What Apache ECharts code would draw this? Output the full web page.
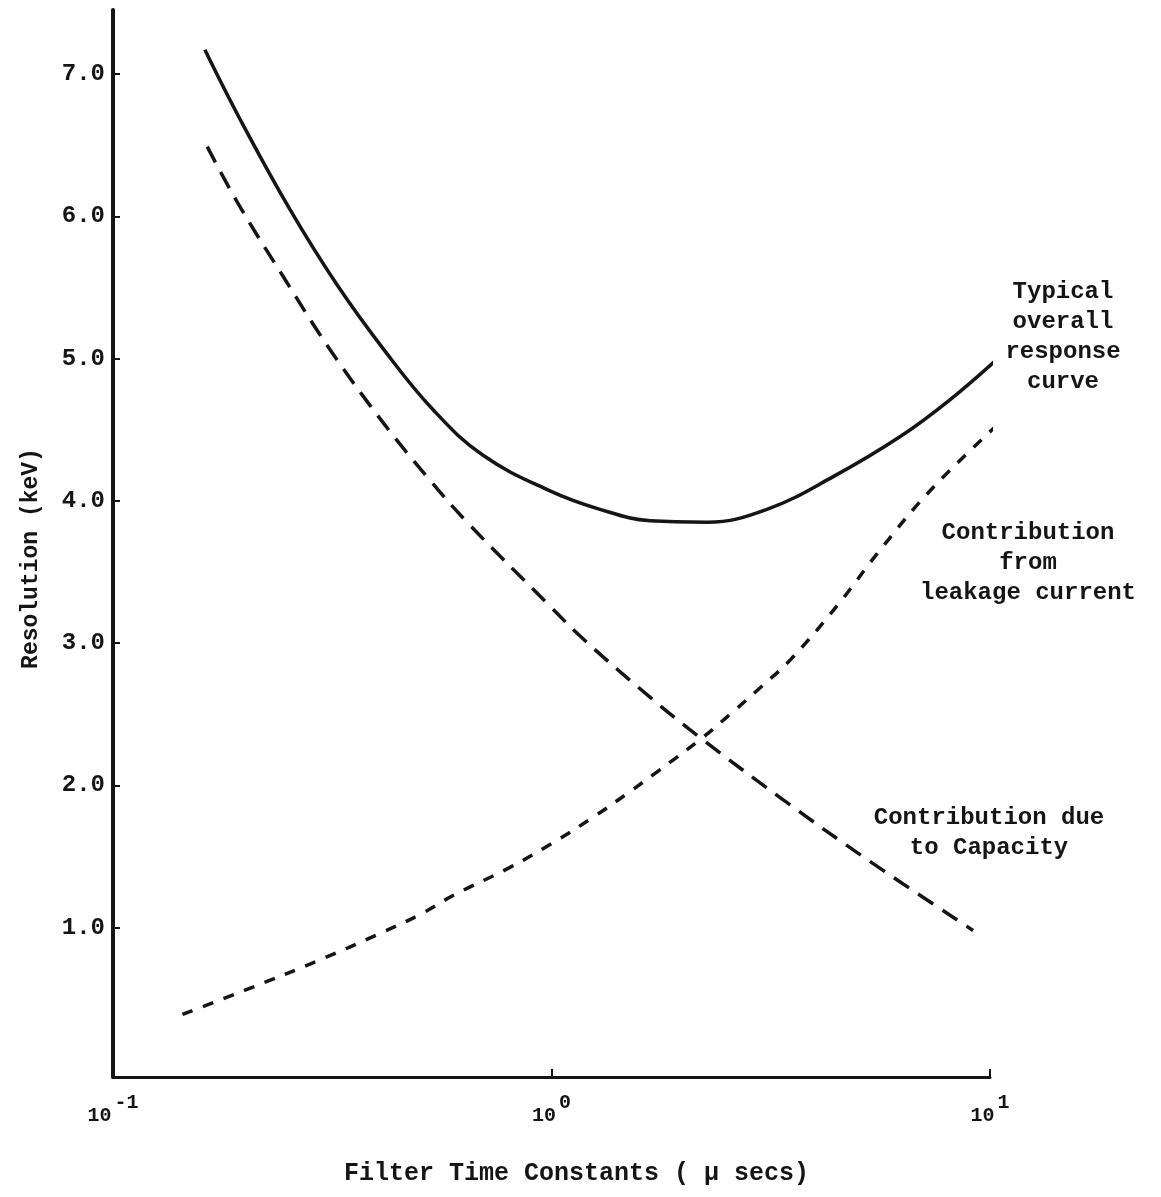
<!DOCTYPE html>
<html>
<head>
<meta charset="utf-8">
<script src="https://cdn.jsdelivr.net/npm/echarts@6/dist/echarts.min.js"></script>
<style>
  html, body { margin: 0; padding: 0; background: #ffffff; }
  #chart { width: 1161px; height: 1197px; }
</style>
</head>
<body>
<div id="chart"></div>
<script>
// ---- Data ----
// Typical overall response curve (solid)
const overallT = [0.162, 0.195, 0.253, 0.324, 0.413, 0.537, 0.698, 0.992, 1.29, 1.68, 2.26, 3.10, 4.39, 6.23, 8.10, 10.5];
const overallV = [7.17, 6.68, 6.05, 5.52, 5.07, 4.64, 4.32, 4.07, 3.94, 3.86, 3.85, 3.94, 4.17, 4.45, 4.71, 5.01];
// Contribution due to Capacity (long dashes)
const capT = [0.164, 0.192, 0.244, 0.313, 0.413, 0.520, 0.642, 0.992, 1.18, 1.677, 2.216, 3.37, 5.24, 9.15];
const capV = [6.49, 6.10, 5.58, 5.06, 4.55, 4.17, 3.85, 3.26, 3.03, 2.62, 2.32, 1.90, 1.48, 0.98];
// Contribution from leakage current (short dashes)
const leakT = [0.144, 0.2, 0.3, 0.4, 0.5, 0.6, 0.8, 1.0, 1.25, 1.5, 1.75, 2.2, 2.6, 3.0, 3.5, 4.5, 5.7, 7.4, 10.7];
const leakV = [0.39, 0.56, 0.78, 0.95, 1.09, 1.23, 1.42, 1.59, 1.78, 1.95, 2.10, 2.33, 2.52, 2.69, 2.88, 3.27, 3.68, 4.09, 4.57];

const yTickValues = [1, 2, 3, 4, 5, 6, 7];
const xTickValues = [0.1, 1, 10];
const xAxisTitle = 'Filter Time Constants ( \u03bc secs)';
const yAxisTitle = 'Resolution (keV)';
const labelOverall = 'Typical\noverall\nresponse\ncurve';
const labelLeak = 'Contribution\nfrom\nleakage current';
const labelCap = 'Contribution due\nto Capacity';

const FONT = "'Liberation Mono', 'Courier New', monospace";
const INK = '#151515';

function zip(a, b) { return a.map((v, i) => [v, b[i]]); }

const chart = echarts.init(document.getElementById('chart'), null, { renderer: 'canvas' });

chart.setOption({
  animation: false,
  backgroundColor: '#ffffff',
  grid: { left: 113, right: 171, top: 10, bottom: 120, containLabel: false, outerBoundsMode: 'none' },
  xAxis: {
    type: 'log',
    logBase: 10,
    min: 0.1,
    max: 10,
    name: xAxisTitle,
    nameLocation: 'middle',
    nameGap: 84,
    nameTextStyle: { fontFamily: FONT, fontSize: 25, fontWeight: 'bold', color: INK, padding: [0, 0, 0, 50] },
    axisLine: { show: true, onZero: false, lineStyle: { color: INK, width: 3 } },
    axisTick: { show: true, inside: true, length: 8, customValues: xTickValues, lineStyle: { color: INK, width: 2 } },
    minorTick: { show: false },
    splitLine: { show: false },
    axisLabel: {
      margin: 16,
      color: INK,
      customValues: xTickValues,
      formatter: function (v) {
        const e = Math.round(Math.log10(v));
        return '{b|10}{s|' + e + '}';
      },
      rich: {
        b: { fontFamily: FONT, fontSize: 20, fontWeight: 'bold', color: INK, lineHeight: 33, verticalAlign: 'bottom' },
        s: { fontFamily: FONT, fontSize: 20, fontWeight: 'bold', color: INK, lineHeight: 20, verticalAlign: 'top', padding: [0, 0, 0, 3] }
      }
    }
  },
  yAxis: {
    type: 'value',
    min: -0.05,
    max: 7.45,
    name: yAxisTitle,
    nameLocation: 'middle',
    nameGap: 70,
    nameRotate: 90,
    nameTextStyle: { fontFamily: FONT, fontSize: 23, fontWeight: 'bold', color: INK, padding: [0, 30, 0, 0] },
    axisLine: { show: true, onZero: false, lineStyle: { color: INK, width: 4 } },
    axisTick: { show: true, inside: true, length: 7, customValues: yTickValues, lineStyle: { color: INK, width: 2 } },
    splitLine: { show: false },
    axisLabel: {
      margin: 8,
      fontFamily: FONT,
      fontSize: 24,
      fontWeight: 'bold',
      color: INK,
      customValues: yTickValues,
      formatter: function (v) { return Number(v).toFixed(1); }
    }
  },
  series: [
    {
      name: 'Typical overall response curve',
      type: 'line',
      data: zip(overallT, overallV),
      smooth: 0.4,
      showSymbol: false,
      clip: false,
      lineStyle: { color: INK, width: 3.5, type: 'solid' }
    },
    {
      name: 'Contribution due to Capacity',
      type: 'line',
      data: zip(capT, capV),
      smooth: 0.4,
      showSymbol: false,
      clip: false,
      lineStyle: { color: INK, width: 3.5, type: [18, 11] }
    },
    {
      name: 'Contribution from leakage current',
      type: 'line',
      data: zip(leakT, leakV),
      smooth: 0.4,
      showSymbol: false,
      clip: false,
      lineStyle: { color: INK, width: 3.5, type: [11, 11] }
    }
  ],
  graphic: [
    {
      type: 'text', x: 1063, y: 277,
      style: { text: labelOverall, font: 'bold 24px ' + FONT, fill: INK, textAlign: 'center', textVerticalAlign: 'top', lineHeight: 30 }
    },
    {
      type: 'text', x: 1028, y: 518,
      style: { text: labelLeak, font: 'bold 24px ' + FONT, fill: INK, textAlign: 'center', textVerticalAlign: 'top', lineHeight: 30 }
    },
    {
      type: 'text', x: 989, y: 803,
      style: { text: labelCap, font: 'bold 24px ' + FONT, fill: INK, textAlign: 'center', textVerticalAlign: 'top', lineHeight: 30 }
    }
  ]
});
</script>
</body>
</html>
